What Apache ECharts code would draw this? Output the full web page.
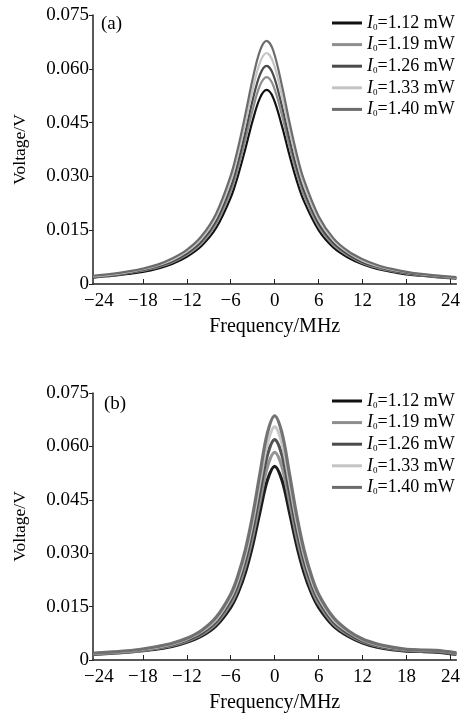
<!DOCTYPE html>
<html><head><meta charset="utf-8">
<script src="https://cdn.jsdelivr.net/npm/echarts@6/dist/echarts.min.js"></script>
<style>html,body{margin:0;padding:0;background:#fff}#c{width:463px;height:714px}</style>
</head><body><div id="c"></div>
<script>
// Legend / series names
const powerLabels = ['1.12', '1.19', '1.26', '1.33', '1.40'];
const seriesNames = ['I0=1.12 mW', 'I0=1.19 mW', 'I0=1.26 mW', 'I0=1.33 mW', 'I0=1.40 mW'];
const lineColors = ['#111111', '#8e8e8e', '#4a4a4a', '#c4c4c4', '#6c6c6c'];

// Tick labels
const freqTicks = [-24, -18, -12, -6, 0, 6, 12, 18, 24];
const freqTickMarks = [-18, -12, -6, 0, 6, 12, 18, 24];

// Panel (a): frequency (MHz)
const freqA = [-24.8, -22, -20, -18, -16, -14, -12, -10, -8, -6, -5, -4, -3, -2, -1.1, -0.2, 1, 2, 3, 4, 6, 8, 10, 12, 14, 16, 18, 20, 22, 24.8];
// Panel (a): voltage (V)
const voltA_112 = [0.0018, 0.0023, 0.0028, 0.0034, 0.0043, 0.0056, 0.0076, 0.0106, 0.0156, 0.0241, 0.0303, 0.0377, 0.0456, 0.0519, 0.0541, 0.0519, 0.0440, 0.0361, 0.0289, 0.0231, 0.0150, 0.0102, 0.0074, 0.0055, 0.0042, 0.0034, 0.0027, 0.0023, 0.0019, 0.0015];
const voltA_119 = [0.0019, 0.0025, 0.0030, 0.0037, 0.0046, 0.0060, 0.0081, 0.0113, 0.0167, 0.0257, 0.0323, 0.0402, 0.0486, 0.0554, 0.0577, 0.0554, 0.0470, 0.0385, 0.0309, 0.0246, 0.0160, 0.0109, 0.0079, 0.0058, 0.0045, 0.0036, 0.0029, 0.0024, 0.0020, 0.0016];
const voltA_126 = [0.0020, 0.0026, 0.0031, 0.0039, 0.0049, 0.0063, 0.0085, 0.0119, 0.0176, 0.0271, 0.0341, 0.0424, 0.0513, 0.0584, 0.0608, 0.0584, 0.0495, 0.0406, 0.0325, 0.0260, 0.0169, 0.0115, 0.0083, 0.0061, 0.0048, 0.0038, 0.0031, 0.0025, 0.0021, 0.0017];
const voltA_133 = [0.0021, 0.0027, 0.0033, 0.0041, 0.0052, 0.0067, 0.0090, 0.0126, 0.0186, 0.0287, 0.0361, 0.0449, 0.0543, 0.0618, 0.0644, 0.0618, 0.0524, 0.0430, 0.0345, 0.0275, 0.0179, 0.0122, 0.0088, 0.0065, 0.0050, 0.0040, 0.0033, 0.0027, 0.0023, 0.0018];
const voltA_140 = [0.0023, 0.0029, 0.0035, 0.0043, 0.0054, 0.0071, 0.0095, 0.0133, 0.0196, 0.0302, 0.0380, 0.0473, 0.0572, 0.0651, 0.0678, 0.0651, 0.0552, 0.0453, 0.0363, 0.0290, 0.0189, 0.0128, 0.0092, 0.0069, 0.0053, 0.0042, 0.0034, 0.0028, 0.0024, 0.0019];

// Panel (b): frequency (MHz)
const freqB = [-24.8, -22, -20, -18, -16, -14, -12, -10, -8, -6, -5, -4, -3, -2, -1, 0, 1, 2, 3, 4, 5, 6, 8, 10, 12, 14, 16, 18, 20, 22, 24.8];
// Panel (b): voltage (V)
const voltB_112 = [0.0016, 0.0019, 0.0022, 0.0026, 0.0031, 0.0038, 0.0050, 0.0067, 0.0096, 0.0148, 0.0189, 0.0246, 0.0323, 0.0417, 0.0505, 0.0544, 0.0505, 0.0417, 0.0323, 0.0246, 0.0189, 0.0148, 0.0096, 0.0067, 0.0048, 0.0036, 0.0029, 0.0025, 0.0024, 0.0022, 0.0016];
const voltB_119 = [0.0017, 0.0020, 0.0023, 0.0027, 0.0033, 0.0041, 0.0053, 0.0071, 0.0102, 0.0158, 0.0202, 0.0264, 0.0346, 0.0447, 0.0542, 0.0583, 0.0542, 0.0447, 0.0346, 0.0264, 0.0202, 0.0158, 0.0102, 0.0071, 0.0051, 0.0039, 0.0031, 0.0027, 0.0025, 0.0024, 0.0017];
const voltB_126 = [0.0018, 0.0021, 0.0024, 0.0029, 0.0035, 0.0043, 0.0056, 0.0075, 0.0108, 0.0168, 0.0215, 0.0280, 0.0367, 0.0474, 0.0575, 0.0619, 0.0575, 0.0474, 0.0367, 0.0280, 0.0215, 0.0168, 0.0108, 0.0075, 0.0054, 0.0041, 0.0033, 0.0028, 0.0026, 0.0025, 0.0018];
const voltB_133 = [0.0018, 0.0022, 0.0025, 0.0030, 0.0036, 0.0045, 0.0059, 0.0080, 0.0114, 0.0177, 0.0227, 0.0296, 0.0389, 0.0502, 0.0608, 0.0655, 0.0608, 0.0502, 0.0389, 0.0296, 0.0227, 0.0177, 0.0114, 0.0080, 0.0057, 0.0043, 0.0035, 0.0029, 0.0027, 0.0026, 0.0019];
const voltB_140 = [0.0019, 0.0023, 0.0026, 0.0031, 0.0038, 0.0047, 0.0061, 0.0083, 0.0120, 0.0185, 0.0238, 0.0310, 0.0407, 0.0525, 0.0637, 0.0686, 0.0637, 0.0525, 0.0407, 0.0310, 0.0238, 0.0185, 0.0120, 0.0083, 0.0059, 0.0045, 0.0036, 0.0030, 0.0028, 0.0027, 0.0020];

const voltA = [voltA_112, voltA_119, voltA_126, voltA_133, voltA_140];
const voltB = [voltB_112, voltB_119, voltB_126, voltB_133, voltB_140];

const FONT = 'Liberation Serif';
const TXT = '#000';
const chart = echarts.init(document.getElementById('c'), null, {renderer: 'canvas'});

function fmtX(v) { return v < 0 ? '\u2212' + (-v) : String(v); }
function fmtY(v) { return v === 0 ? '0' : v.toFixed(3); }

function xAxis(gi) {
  return {
    type: 'value', gridIndex: gi, min: -24.8, max: 24.8,
    name: 'Frequency/MHz', nameLocation: 'middle', nameGap: 33,
    nameTextStyle: {fontFamily: FONT, fontSize: 20, color: TXT},
    axisLine: {show: true, onZero: false, lineStyle: {color: '#222', width: 1.5}},
    axisTick: {show: true, inside: true, length: 5, customValues: freqTickMarks, lineStyle: {color: '#222', width: 1}},
    axisLabel: {show: true, customValues: freqTicks, formatter: fmtX, margin: 8, fontFamily: FONT, fontSize: 19, color: TXT},
    splitLine: {show: false}
  };
}
function yAxis(gi) {
  return {
    type: 'value', gridIndex: gi, min: 0, max: 0.075, interval: 0.015,
    name: 'Voltage/V', nameLocation: 'middle', nameGap: 64,
    nameTextStyle: {fontFamily: FONT, fontSize: 17.5, color: TXT},
    axisLine: {show: true, onZero: false, lineStyle: {color: '#222', width: 1.5}},
    axisTick: {show: true, inside: false, length: 4, lineStyle: {color: '#222', width: 1}},
    axisLabel: {show: true, formatter: fmtY, margin: 4, fontFamily: FONT, fontSize: 19, color: TXT},
    splitLine: {show: false}
  };
}

const series = [];
seriesNames.forEach((nm, i) => {
  series.push({
    name: nm, type: 'line', xAxisIndex: 0, yAxisIndex: 0, smooth: 0.35, showSymbol: false, symbol: 'none',
    data: freqA.map((f, k) => [f, voltA[i][k]]),
    lineStyle: {color: lineColors[i], width: 2.2}, itemStyle: {color: lineColors[i]}, z: 2 + i
  });
});
seriesNames.forEach((nm, i) => {
  series.push({
    name: nm, type: 'line', xAxisIndex: 1, yAxisIndex: 1, smooth: 0.35, showSymbol: false, symbol: 'none',
    data: freqB.map((f, k) => [f, voltB[i][k]]),
    lineStyle: {color: lineColors[i], width: 3.2, opacity: 0.95}, itemStyle: {color: lineColors[i]}, z: 2 + i
  });
});

function legend(top) {
  return {
    orient: 'vertical', left: 332, top: top, padding: 0, itemWidth: 30, itemHeight: 3, itemGap: 3.6,
    icon: 'rect', selectedMode: false, data: seriesNames,
    formatter: function (name) {
      const i = seriesNames.indexOf(name);
      return '{i|I}{s|0}{t|=' + powerLabels[i] + ' mW}';
    },
    textStyle: {
      fontFamily: FONT, fontSize: 18, color: TXT, lineHeight: 18,
      rich: {
        i: {fontFamily: FONT, fontSize: 18, fontStyle: 'italic', color: TXT, lineHeight: 18},
        s: {fontFamily: FONT, fontSize: 9, color: TXT, verticalAlign: 'bottom', padding: [6, 0, 0, 0], lineHeight: 18},
        t: {fontFamily: FONT, fontSize: 18, color: TXT, lineHeight: 18}
      }
    }
  };
}

chart.setOption({
  animation: false,
  backgroundColor: '#fff',
  grid: [
    {left: 93, right: 6, top: 15, height: 269},
    {left: 93, right: 6, top: 393, height: 269}
  ],
  xAxis: [xAxis(0), xAxis(1)],
  yAxis: [yAxis(0), yAxis(1)],
  legend: [legend(14), legend(392)],
  graphic: [
    {type: 'text', left: 101, top: 15, style: {text: '(a)', fontFamily: FONT, fontSize: 19, fill: TXT}},
    {type: 'text', left: 104, top: 395, style: {text: '(b)', fontFamily: FONT, fontSize: 19, fill: TXT}}
  ],
  series: series
});
</script>
</body></html>
